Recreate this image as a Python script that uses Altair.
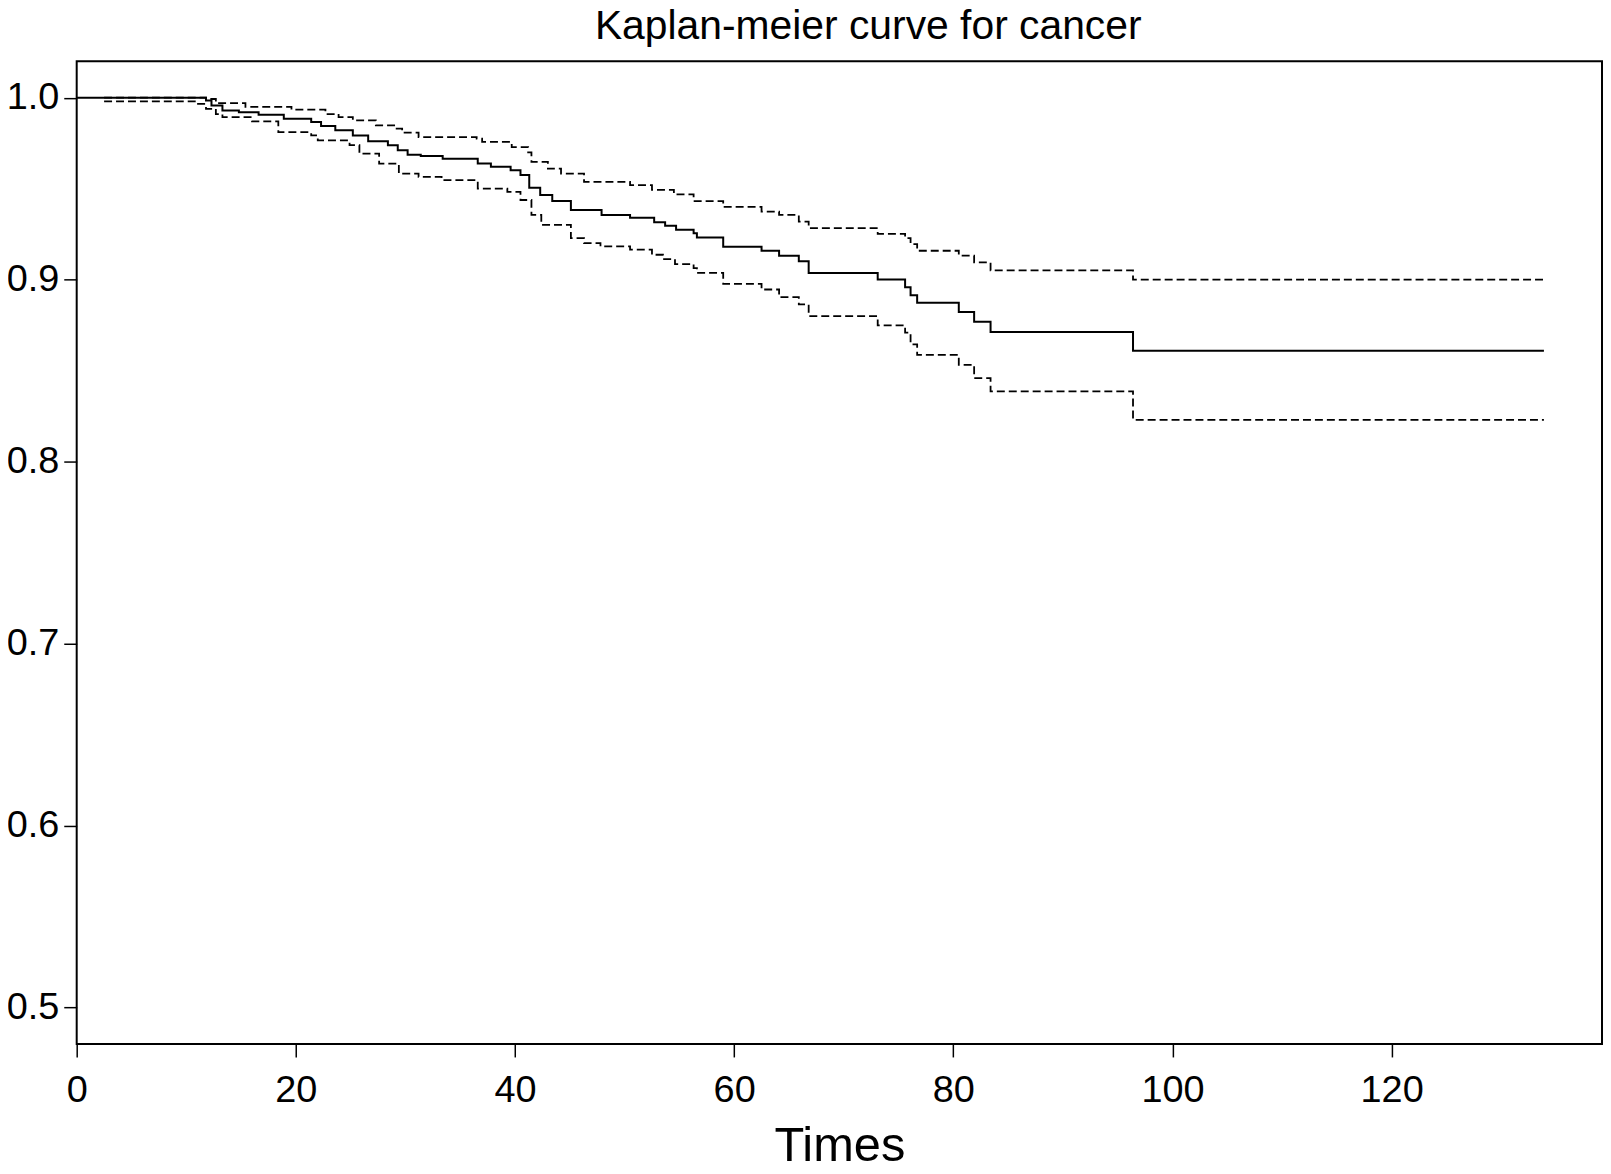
import altair as alt
import pandas as pd

# Kaplan-Meier estimate (solid)
km_time = [0, 11.8, 12.3, 13.3, 14.8, 16.6, 18.9, 21.4, 22.3, 23.6, 25.2, 26.6, 28.4, 29.3,
           30.2, 31.4, 33.4, 36.6, 37.8, 39.6, 40.5, 41.3, 42.3, 43.4, 45.1, 47.9, 50.5,
           52.7, 53.7, 54.7, 56.3, 56.6, 59.0, 62.5, 64.1, 65.9, 66.8, 73.1, 75.6, 76.1,
           76.7, 80.5, 81.9, 83.4, 96.4, 133.9]
km_surv = [1.0, 0.9985, 0.9957, 0.993, 0.992, 0.9906, 0.9884, 0.9866, 0.9844, 0.9821, 0.9793,
           0.9761, 0.9739, 0.9711, 0.9687, 0.968, 0.9665, 0.9638, 0.962, 0.9602, 0.9575,
           0.9505, 0.9465, 0.9432, 0.9383, 0.9356, 0.9341, 0.9316, 0.9297, 0.9274, 0.9255,
           0.9232, 0.9181, 0.9159, 0.9132, 0.9101, 0.9037, 0.9001, 0.8958, 0.8915, 0.8873,
           0.8822, 0.8769, 0.8712, 0.8610, 0.8610]

# Upper confidence limit (dashed)
up_time = [2.5, 11.8, 12.7, 15.4, 19.6, 22.7, 23.9, 25.2, 27.3, 29.1, 29.7, 31.2, 36.5, 37.0,
           39.7, 41.2, 41.5, 43.0, 44.2, 46.3, 50.5, 52.5, 54.5, 56.3, 59.0, 62.5, 64.1,
           65.9, 66.8, 73.1, 75.6, 76.1, 76.7, 80.5, 81.9, 83.4, 96.4, 133.9]
up_surv = [1.0, 0.9993, 0.997, 0.995, 0.9935, 0.991, 0.9893, 0.9875, 0.9848, 0.983, 0.9808,
           0.9784, 0.9775, 0.9757, 0.9729, 0.970, 0.9647, 0.961, 0.9583, 0.9538, 0.952,
           0.9493, 0.9469, 0.9432, 0.940, 0.9374, 0.9356, 0.9319, 0.9283, 0.9252, 0.9228,
           0.9195, 0.9159, 0.9132, 0.9095, 0.9051, 0.9000, 0.9000]

# Lower confidence limit (dashed)
lo_time = [2.5, 10.9, 11.8, 12.7, 13.3, 16.0, 18.4, 21.4, 22.0, 24.9, 25.8, 27.6, 29.4, 31.2,
           33.3, 36.6, 39.3, 40.5, 41.5, 42.4, 45.1, 46.3, 47.8, 50.5, 52.5, 53.5, 54.6,
           56.3, 56.6, 59.0, 62.5, 64.1, 65.9, 66.8, 73.1, 75.6, 76.1, 76.7, 80.5, 81.9,
           83.4, 96.4, 133.9]
lo_surv = [0.998, 0.9966, 0.9939, 0.991, 0.9893, 0.987, 0.9811, 0.9793, 0.9766, 0.9739,
           0.9693, 0.9638, 0.9583, 0.9565, 0.9547, 0.9501, 0.9483, 0.9438, 0.9356, 0.9301,
           0.9228, 0.9201, 0.9183, 0.9165, 0.9137, 0.9113, 0.9086, 0.9064, 0.9037, 0.8977,
           0.8946, 0.8904, 0.8864, 0.8800, 0.8749, 0.8709, 0.8645, 0.8587, 0.8532, 0.8459,
           0.8386, 0.8230, 0.8230]

x_ticks = [0, 20, 40, 60, 80, 100, 120]
y_ticks = [0.5, 0.6, 0.7, 0.8, 0.9, 1.0]
title_text = ["Kaplan-meier curve for cancer"]

FONT = "Liberation Sans"

km_df = pd.DataFrame({"time": km_time, "surv": km_surv})
ci_df = pd.concat([
    pd.DataFrame({"time": up_time, "surv": up_surv, "band": "upper"}),
    pd.DataFrame({"time": lo_time, "surv": lo_surv, "band": "lower"}),
])
title_df = pd.DataFrame({"label": title_text})

x_enc = alt.X("time:Q",
              scale=alt.Scale(domain=[0, 139.2], nice=False, zero=False),
              axis=alt.Axis(values=x_ticks, title="Times", grid=False, domain=False,
                            tickSize=13, tickWidth=1.5, tickColor="black",
                            labelFontSize=38, labelFont=FONT, labelColor="black",
                            labelPadding=15, labelFlush=False,
                            titleFont=FONT, titleFontSize=49, titleFontWeight="normal",
                            titleColor="black", titleBaseline="alphabetic", titleY=117))
y_enc = alt.Y("surv:Q",
              scale=alt.Scale(domain=[0.48, 1.02], nice=False, zero=False),
              axis=alt.Axis(values=y_ticks, format=".1f", title=None, grid=False,
                            domain=False, tickSize=13, tickWidth=1.5, tickColor="black",
                            labelFontSize=38, labelFont=FONT, labelColor="black",
                            labelPadding=5, labelFlush=False))

solid = alt.Chart(km_df).mark_line(interpolate="step-after", color="black",
                                   strokeWidth=2).encode(x=x_enc, y=y_enc)
dashed = alt.Chart(ci_df).mark_line(interpolate="step-after", color="black",
                                    strokeWidth=1.8, strokeDash=[8, 4]).encode(
    x=x_enc, y=y_enc, detail="band:N")
title_mark = alt.Chart(title_df).mark_text(
    font=FONT, fontSize=41, color="black", align="center", baseline="alphabetic",
    clip=False).encode(text="label:N", x=alt.value(795), y=alt.value(-22))

chart = alt.layer(solid, dashed, title_mark).properties(
    width=1532, height=987,
    autosize=alt.AutoSizeParams(type="none"),
    padding={"left": 69, "top": 51, "right": 1, "bottom": 125},
).configure_view(stroke="black", strokeWidth=2)

chart.save("out.html", embed_options={"renderer": "svg", "actions": False})
